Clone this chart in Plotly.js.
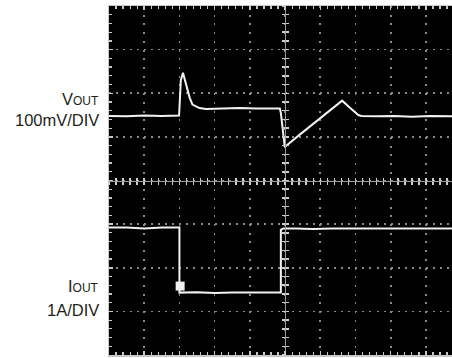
<!DOCTYPE html>
<html>
<head>
<meta charset="utf-8">
<script src="https://cdn.plot.ly/plotly-3.0.1.min.js"></script>
<style>html,body{margin:0;padding:0;background:#fff;}#chart{width:452px;height:358px;}</style>
</head>
<body>
<div id="chart"></div>
<script>
// Time in screen divisions (0 = left edge), amplitude in divisions (0 = bottom edge)
var voutT = [0, 0.5, 1.0, 1.5, 1.99, 2.01, 2.04, 2.10, 2.19, 2.29, 2.37, 2.57, 2.75, 3.2, 3.7, 4.2, 4.6, 4.85, 4.88, 4.94, 4.99, 5.4, 5.8, 6.2, 6.62, 6.85, 7.08, 7.17, 7.6, 8.1, 8.6, 9.1, 9.74];
var voutV = [5.48, 5.47, 5.49, 5.48, 5.49, 5.75, 6.30, 6.47, 6.20, 5.90, 5.74, 5.66, 5.64, 5.65, 5.66, 5.65, 5.66, 5.65, 5.55, 5.10, 4.77, 5.04, 5.30, 5.56, 5.83, 5.66, 5.50, 5.48, 5.47, 5.48, 5.46, 5.48, 5.47];
var ioutT = [0, 0.5, 1.0, 1.5, 2.0, 2.0, 2.5, 3.0, 3.5, 4.0, 4.5, 4.88, 4.88, 4.95, 5.3, 5.8, 6.3, 6.8, 7.3, 7.8, 8.3, 8.8, 9.3, 9.74];
var ioutV = [2.92, 2.92, 2.90, 2.92, 2.92, 1.43, 1.44, 1.42, 1.43, 1.43, 1.42, 1.43, 2.87, 2.90, 2.90, 2.89, 2.90, 2.90, 2.89, 2.90, 2.90, 2.89, 2.90, 2.90];
var markT = [2.02];
var markV = [1.58];
var labels = ["V<span style='font-size:12px'>OUT</span>", "100mV/DIV", "I<span style='font-size:12px'>OUT</span>", "1A/DIV"];
var labelY = [0.733, 0.672, 0.198, 0.130];

var xRange = [0, 9.74], yRange = [0, 8];
var centerXpos = 5 / 9.74;
var traceColor = '#f2f2f2';
var fontFam = "'Liberation Sans', Arial, sans-serif";

var data = [
  {x: voutT, y: voutV, xaxis: 'x2', yaxis: 'y2', mode: 'lines', line: {color: traceColor, width: 2}, hoverinfo: 'skip'},
  {x: ioutT, y: ioutV, xaxis: 'x3', yaxis: 'y3', mode: 'lines', line: {color: traceColor, width: 2}, hoverinfo: 'skip'},
  {x: markT, y: markV, mode: 'markers', marker: {symbol: 'square', size: 9, color: traceColor}, hoverinfo: 'skip'}
];

function mainAxis(range, dash) {
  return {range: range, dtick: 1, tick0: 0, showgrid: true, gridcolor: '#8a8a8a', gridwidth: 1.6, griddash: dash,
    zeroline: false, showticklabels: false, showline: true, linecolor: '#c8c8c8', linewidth: 1.5,
    ticks: 'inside', ticklen: 4, tickcolor: '#c8c8c8', tickwidth: 1.5,
    minor: {dtick: 0.2, tick0: 0, ticks: 'inside', ticklen: 3, tickcolor: '#c8c8c8', tickwidth: 1.2, showgrid: false},
    fixedrange: true};
}
function centerAxis(range, over, pos, side, tickdir) {
  var a = {range: range, overlaying: over, anchor: 'free', position: pos, side: side, dtick: 1, tick0: 0,
    showgrid: false, zeroline: false, showticklabels: false, showline: true, linecolor: '#9a9a9a', linewidth: 1.2,
    ticks: tickdir, ticklen: 3, tickcolor: '#d0d0d0', tickwidth: 1.5,
    minor: {dtick: 0.2, tick0: 0, ticks: tickdir, ticklen: 3, tickcolor: '#d0d0d0', tickwidth: 1.5, showgrid: false},
    fixedrange: true};
  return a;
}

var xa = mainAxis(xRange, '2px,6.72px'); xa.mirror = 'allticks';
var ya = mainAxis(yRange, '2px,5.04px'); ya.mirror = false;

var annotations = labels.map(function(t, i) {
  return {text: t, xref: 'paper', yref: 'paper', x: 0, y: labelY[i], xanchor: 'right', yanchor: 'middle',
    xshift: -8, showarrow: false, align: 'right', font: {family: fontFam, size: 16.5, color: '#231f20'}};
});

var layout = {
  width: 452, height: 358,
  margin: {l: 109, r: 0, t: 6, b: 3, pad: 0},
  paper_bgcolor: '#ffffff', plot_bgcolor: '#000000',
  showlegend: false,
  xaxis: xa, yaxis: ya,
  xaxis2: centerAxis(xRange, 'x', 0.5, 'bottom', 'outside'),
  xaxis3: centerAxis(xRange, 'x', 0.5, 'bottom', 'inside'),
  yaxis2: centerAxis(yRange, 'y', centerXpos, 'left', 'outside'),
  yaxis3: centerAxis(yRange, 'y', centerXpos, 'left', 'inside'),
  annotations: annotations
};

Plotly.newPlot('chart', data, layout, {staticPlot: true, displayModeBar: false});
</script>
</body>
</html>
